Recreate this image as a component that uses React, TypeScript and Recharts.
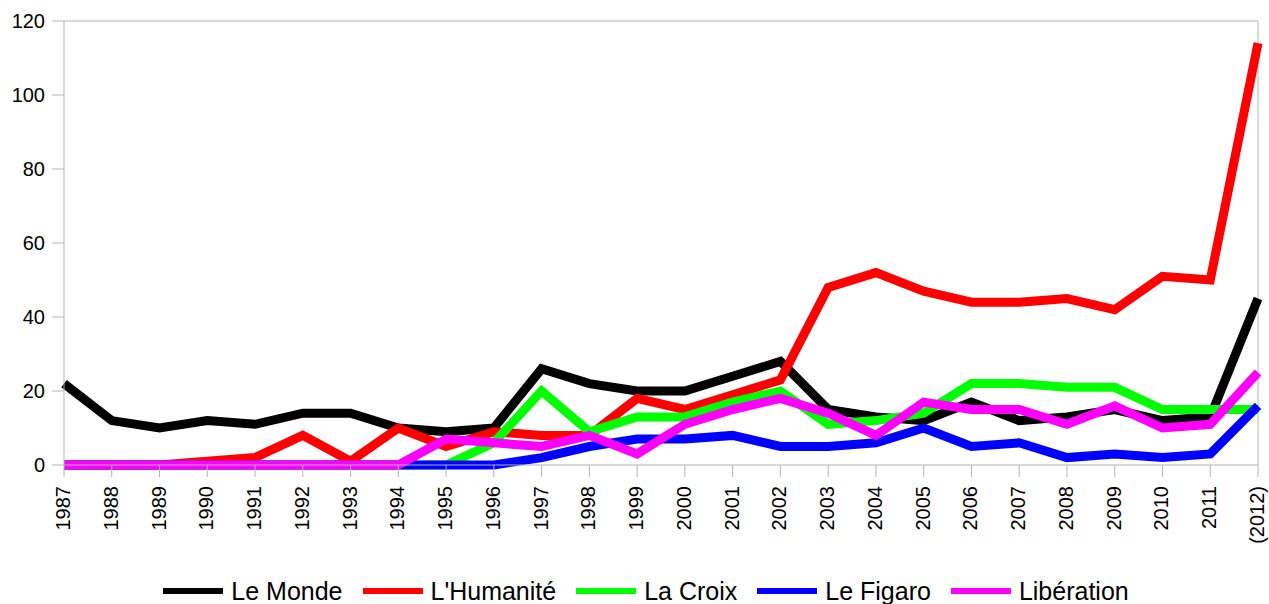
import { CartesianGrid, Legend, Line, LineChart, ReferenceLine, XAxis, YAxis } from "recharts";

const years = [
  "1987", "1988", "1989", "1990", "1991", "1992", "1993", "1994", "1995",
  "1996", "1997", "1998", "1999", "2000", "2001", "2002", "2003", "2004",
  "2005", "2006", "2007", "2008", "2009", "2010", "2011", "(2012)",
];

const leMonde = [22, 12, 10, 12, 11, 14, 14, 10, 9, 10, 26, 22, 20, 20, 24, 28, 15, 13, 12, 17, 12, 13, 15, 12, 13, 45];
const humanite = [0, 0, 0, 1, 2, 8, 1, 10, 5, 9, 8, 8, 18, 15, 19, 23, 48, 52, 47, 44, 44, 45, 42, 51, 50, 114];
const laCroix = [0, 0, 0, 0, 0, 0, 0, 0, 0, 6, 20, 9, 13, 13, 17, 20, 11, 12, 14, 22, 22, 21, 21, 15, 15, 15];
const leFigaro = [0, 0, 0, 0, 0, 0, 0, 0, 0, 0, 2, 5, 7, 7, 8, 5, 5, 6, 10, 5, 6, 2, 3, 2, 3, 16];
const liberation = [0, 0, 0, 0, 0, 0, 0, 0, 7, 6, 5, 8, 3, 11, 15, 18, 14, 8, 17, 15, 15, 11, 16, 10, 11, 25];

const yTicks = [0, 20, 40, 60, 80, 100, 120];

const series = [
  { key: "monde", name: "Le Monde", color: "#000000", values: leMonde },
  { key: "huma", name: "L'Humanité", color: "#ff0000", values: humanite },
  { key: "croix", name: "La Croix", color: "#00ff00", values: laCroix },
  { key: "figaro", name: "Le Figaro", color: "#0000ff", values: leFigaro },
  { key: "libe", name: "Libération", color: "#ff00ff", values: liberation },
];

const data = years.map((year, i) => {
  const row: Record<string, string | number> = { year };
  series.forEach((s) => {
    row[s.key] = s.values[i];
  });
  return row;
});

const FONT = "'Liberation Sans', Arial, sans-serif";
const AXIS = "#b3b3b3";

// rotated year labels, reading bottom to top, hanging under the tick
function YearTick({ x, y, payload }: any) {
  const ty = y + 7;
  return (
    <text
      x={x}
      y={ty}
      dy="0.3em"
      transform={`rotate(-90, ${x}, ${ty})`}
      textAnchor="end"
      fontSize={20}
      fontFamily={FONT}
      fill="#000"
    >
      {payload.value}
    </text>
  );
}

function LegendRow() {
  return (
    <div
      style={{
        display: "flex",
        justifyContent: "center",
        alignItems: "center",
        gap: 20,
        height: 26,
        paddingLeft: 30,
        fontFamily: FONT,
        fontSize: 25,
        color: "#000",
      }}
    >
      {series.map((s) => (
        <div key={s.key} style={{ display: "flex", alignItems: "center" }}>
          <span style={{ width: 60, height: 6, background: s.color, marginRight: 8 }} />
          <span style={{ lineHeight: "26px" }}>{s.name}</span>
        </div>
      ))}
    </div>
  );
}

export default function App() {
  return (
    <div style={{ position: "absolute", top: 0, left: 0, width: 1269, height: 604, background: "#fff" }}>
      <LineChart
        width={1269}
        height={604}
        data={data}
        margin={{ top: 21, right: 11, left: 4, bottom: 0 }}
        style={{ overflow: "visible" }}
      >
        <CartesianGrid horizontal={false} vertical={false} />
        <XAxis
          dataKey="year"
          interval={0}
          height={113}
          tickSize={12}
          stroke={AXIS}
          tick={<YearTick />}
        />
        <YAxis
          width={60}
          domain={[0, 120]}
          ticks={yTicks}
          tickSize={12}
          tickMargin={7}
          stroke={AXIS}
          tick={{ fontSize: 20, fontFamily: FONT, fill: "#000" }}
        />
        <ReferenceLine y={120} stroke={AXIS} />
        <ReferenceLine x="(2012)" stroke={AXIS} />
        {series.map((s) => (
          <Line
            key={s.key}
            dataKey={s.key}
            name={s.name}
            stroke={s.color}
            strokeWidth={9}
            dot={false}
            activeDot={false}
            isAnimationActive={false}
          />
        ))}
        <Legend verticalAlign="bottom" content={<LegendRow />} />
      </LineChart>
    </div>
  );
}
